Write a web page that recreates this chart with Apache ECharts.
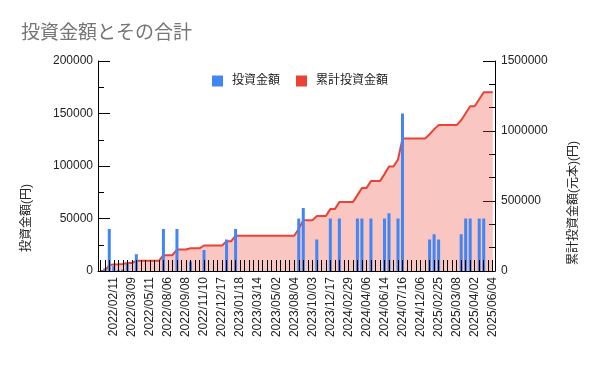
<!DOCTYPE html>
<html>
<head>
<meta charset="utf-8">
<script src="https://cdn.jsdelivr.net/npm/echarts@6/dist/echarts.min.js"></script>
<style>html,body{margin:0;padding:0;background:#fff}#c{width:600px;height:371px}</style>
</head>
<body>
<div id="c"></div>
<script>
// Visible x labels (every 4th category, starting at index 3); hidden categories left blank
const visibleDates = ['2022/02/11','2022/03/09','2022/05/11','2022/08/06','2022/09/08','2022/11/10','2022/12/17',
  '2023/01/18','2023/03/14','2023/05/02','2023/08/04','2023/10/03','2023/12/17',
  '2024/02/29','2024/04/06','2024/06/14','2024/07/16','2024/12/06',
  '2025/02/25','2025/03/08','2025/04/02','2025/06/04'];
const categories = [];
for (let i = 0; i < 88; i++) categories.push(i % 4 === 3 ? visibleDates[(i - 3) / 4] : '');

// 投資金額 per category
const invest = [
  0, 2500, 40000, 4500, 1000, 1500, 7500, 0, 16000, 0,
  0, 0, 0, 0, 40000, 0, 0, 40000, 0, 0,
  9000, 0, 0, 20000, 0, 0, 0, 0, 30000, 0,
  40000, 0, 0, 0, 0, 0, 0, 0, 0, 0,
  0, 0, 0, 0, 50000, 60000, 0, 0, 30000, 0,
  0, 50000, 0, 50000, 0, 0, 0, 50000, 50000, 0,
  50000, 0, 0, 50000, 55000, 0, 50000, 150000, 0, 0,
  0, 0, 0, 30000, 35000, 30000, 0, 0, 0, 0,
  35000, 50000, 50000, 0, 50000, 50000, 0, 0
];
// 累計投資金額 per category
const cumulative = [
  0, 2500, 42500, 47000, 48000, 49500, 57000, 57000, 73000, 73000,
  73000, 73000, 73000, 73000, 113000, 113000, 113000, 153000, 153000, 153000,
  162000, 162000, 162000, 182000, 182000, 182000, 182000, 182000, 212000, 212000,
  252000, 252000, 252000, 252000, 252000, 252000, 252000, 252000, 252000, 252000,
  252000, 252000, 252000, 252000, 302000, 362000, 362000, 362000, 392000, 392000,
  392000, 442000, 442000, 492000, 492000, 492000, 492000, 542000, 592000, 592000,
  642000, 642000, 642000, 692000, 747000, 747000, 797000, 947000, 947000, 947000,
  947000, 947000, 947000, 977000, 1012000, 1042000, 1042000, 1042000, 1042000, 1042000,
  1077000, 1127000, 1177000, 1177000, 1227000, 1277000, 1277000, 1277000
];

const FF = '"Liberation Sans", Arial, "Noto Sans CJK JP", sans-serif';
const plain = function (v) { return String(v); };
const chart = echarts.init(document.getElementById('c'));
chart.setOption({
  animation: false,
  textStyle: { fontFamily: FF },
  title: {
    text: '投資金額とその合計', left: 16, top: 19,
    textStyle: { fontSize: 19, fontWeight: 'normal', color: '#757575', fontFamily: FF }
  },
  legend: {
    top: 70, left: 'center', itemWidth: 11, itemHeight: 11, itemGap: 16, icon: 'rect',
    data: ['投資金額', '累計投資金額'],
    textStyle: { fontSize: 12, color: '#222', padding: [0, 0, 0, 4], fontFamily: FF }
  },
  grid: { left: 98, right: 105, top: 61, bottom: 100 },
  xAxis: {
    type: 'category', data: categories, boundaryGap: true, z: 5,
    axisLine: { lineStyle: { color: '#000', width: 1 } },
    axisTick: { show: true, inside: true, length: 11, alignWithLabel: true, interval: 0, lineStyle: { color: '#000', width: 1 } },
    axisLabel: { rotate: 90, interval: function (i) { return i % 4 === 3; }, margin: 6, fontSize: 12, color: '#222', fontFamily: FF }
  },
  yAxis: [
    {
      type: 'value', min: 0, max: 200000, interval: 50000, position: 'left',
      axisLine: { show: true, lineStyle: { color: '#000' } },
      axisTick: { show: true, inside: true, length: 12, lineStyle: { color: '#000' } },
      minorTick: { show: true, splitNumber: 2, length: 6, lineStyle: { color: '#000' } },
      splitLine: { show: false },
      axisLabel: { margin: 5, fontSize: 12, color: '#222', fontFamily: FF, formatter: plain }
    },
    {
      type: 'value', min: 0, max: 1500000, interval: 500000, position: 'right',
      axisLine: { show: true, lineStyle: { color: '#000' } },
      axisTick: { show: true, inside: true, length: 12, lineStyle: { color: '#000' } },
      minorTick: { show: true, splitNumber: 3, length: 6, lineStyle: { color: '#000' } },
      splitLine: { show: false },
      axisLabel: { margin: 6, fontSize: 12, color: '#222', fontFamily: FF, formatter: plain }
    }
  ],
  graphic: [
    { type: 'text', x: 27, y: 218, rotation: Math.PI / 2,
      style: { text: '投資金額(円)', fontSize: 12, fill: '#222', align: 'center', verticalAlign: 'middle', fontFamily: FF } },
    { type: 'text', x: 573.5, y: 203, rotation: Math.PI / 2,
      style: { text: '累計投資金額(元本)(円)', fontSize: 12, fill: '#222', align: 'center', verticalAlign: 'middle', fontFamily: FF } }
  ],
  series: [
    {
      name: '累計投資金額', type: 'line', yAxisIndex: 1, data: cumulative,
      showSymbol: false, symbol: 'none', z: 2,
      lineStyle: { width: 2, color: '#EA4335' }, itemStyle: { color: '#EA4335' },
      areaStyle: { color: '#EA4335', opacity: 0.3 }
    },
    {
      name: '投資金額', type: 'bar', yAxisIndex: 0, data: invest, barWidth: 3, z: 3,
      itemStyle: { color: '#4285F4' }
    }
  ]
});
</script>
</body>
</html>
